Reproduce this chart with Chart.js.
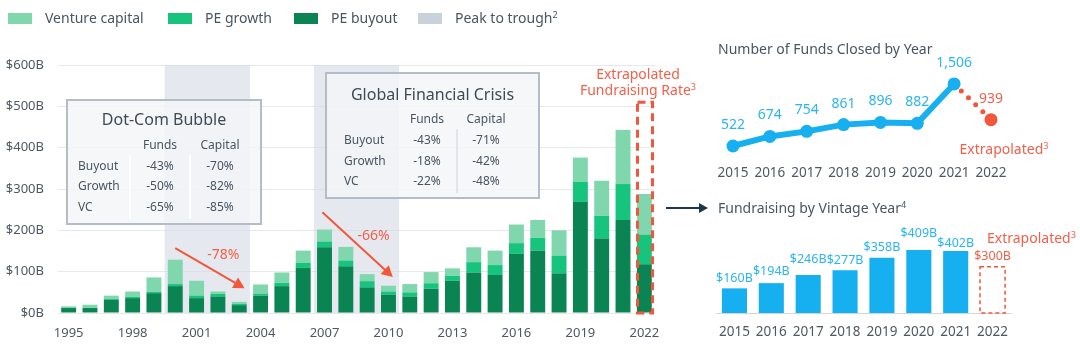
<!DOCTYPE html>
<html>
<head>
<meta charset="utf-8">
<script src="https://cdn.jsdelivr.net/npm/chart.js@4.4.0/dist/chart.umd.min.js"></script>
<style>
  body { margin: 0; background: #fff; font-family: "Noto Sans", sans-serif; }
  #wrap { position: relative; width: 1080px; height: 346px; overflow: hidden; }
  canvas { position: absolute; }
  .t { position: absolute; white-space: nowrap; line-height: 1; }
  .box { position: absolute; box-sizing: border-box; border: 2px solid #b4bdc7; background: rgba(243,245,248,0.82); }
  .sep { position: absolute; width: 2px; }
  .lg { position: absolute; width: 24px; height: 11px; top: 13px; }
  sup { font-size: 65%; vertical-align: 0; position: relative; top: -0.5em; }
</style>
</head>
<body>
<div id="wrap">
  <canvas id="main" width="680" height="346" style="left:0;top:0"></canvas>
  <canvas id="funds" width="390" height="135" style="left:690px;top:50px"></canvas>
  <canvas id="vintage" width="390" height="121" style="left:690px;top:225px"></canvas>
</div>
<script>
// main chart: capital raised by year ($B)
var years = ['1995', '1996', '1997', '1998', '1999', '2000', '2001', '2002', '2003', '2004',
             '2005', '2006', '2007', '2008', '2009', '2010', '2011', '2012', '2013', '2014',
             '2015', '2016', '2017', '2018', '2019', '2020', '2021', '2022'];
var buyout  = [12, 12, 32, 36, 48, 65, 36, 40, 19, 42, 65, 109, 159, 113, 62, 44, 40, 59, 78, 98, 92, 143, 151, 96, 269, 180, 225, 118];
var growth  = [1, 1, 2, 3, 3, 5, 6, 6, 3, 5, 8, 12, 14, 14, 15, 8, 10, 13, 12, 25, 24, 26, 31, 43, 48, 55, 87, 72];
var venture = [3, 7, 8, 13, 35, 59, 36, 6, 5, 22, 25, 30, 29, 33, 17, 14, 20, 27, 18, 36, 35, 45, 43, 61, 59, 85, 131, 98];
var yTicks = [0, 100, 200, 300, 400, 500, 600];
var peakToTrough = [['2000', '2003'], ['2007', '2010']];
var dropLabels = ['-78%', '-66%'];

// crisis tables
var tableRows = ['Buyout', 'Growth', 'VC'];
var tableCols = ['Funds', 'Capital'];
var dotcomFunds = ['-43%', '-50%', '-65%'];
var dotcomCapital = ['-70%', '-82%', '-85%'];
var gfcFunds = ['-43%', '-18%', '-22%'];
var gfcCapital = ['-71%', '-42%', '-48%'];

// right side charts
var recentYears = ['2015', '2016', '2017', '2018', '2019', '2020', '2021', '2022'];
var fundsClosed = [522, 674, 754, 861, 896, 882, 1506, 939];
var vintageCapital = [160, 194, 246, 277, 358, 409, 402, 300];

var FONT = '"Noto Sans", sans-serif';
var cVC = '#80d7ae', cGrowth = '#17c47e', cBuyout = '#0a8452';
var cShade = 'rgba(212,219,228,0.6)';
var cRed = '#f2563b', cRedText = '#f2604a';
var cBlue = '#16aff0', cBlueText = '#2bb5ee';
var cTick = '#4f5862', cTitle = '#4a5560';

var wrap = document.getElementById('wrap');

function place(html, x, y, css, anchor) {
  var d = document.createElement('div');
  d.className = 't';
  d.innerHTML = html;
  d.style.cssText += css || '';
  d.style.left = x + 'px';
  d.style.top = y + 'px';
  if (anchor === 'center') d.style.transform = 'translate(-50%,-50%)';
  else d.style.transform = 'translate(0,-50%)';
  wrap.appendChild(d);
  return d;
}

// legend
var legendItems = [
  { label: 'Venture capital', color: cVC, x: 8 },
  { label: 'PE growth', color: cGrowth, x: 168 },
  { label: 'PE buyout', color: cBuyout, x: 294 },
  { label: 'Peak to trough<sup>2</sup>', color: '#c9d2db', x: 418 }
];
legendItems.forEach(function (it) {
  var b = document.createElement('div');
  b.className = 'lg';
  b.style.left = it.x + 'px';
  b.style.background = it.color;
  wrap.appendChild(b);
  place(it.label, it.x + 37, 18, 'font-size:14px;color:' + cTitle + ';');
});

// main stacked bar chart
var shadePlugin = {
  id: 'shade',
  beforeDatasetsDraw: function (chart) {
    var ctx = chart.ctx, a = chart.chartArea, x = chart.scales.x;
    var half = (x.getPixelForValue(1) - x.getPixelForValue(0)) / 2;
    ctx.save();
    ctx.fillStyle = cShade;
    peakToTrough.forEach(function (p) {
      var l = x.getPixelForValue(years.indexOf(p[0])) - half;
      var r = x.getPixelForValue(years.indexOf(p[1])) + half;
      ctx.fillRect(l, a.top, r - l, a.bottom - a.top);
    });
    ctx.restore();
  }
};

function arrow(ctx, x1, y1, x2, y2, color, w, head) {
  var ang = Math.atan2(y2 - y1, x2 - x1);
  ctx.save();
  ctx.strokeStyle = color;
  ctx.fillStyle = color;
  ctx.lineWidth = w;
  ctx.beginPath();
  ctx.moveTo(x1, y1);
  ctx.lineTo(x2 - Math.cos(ang) * head * 0.8, y2 - Math.sin(ang) * head * 0.8);
  ctx.stroke();
  ctx.beginPath();
  ctx.moveTo(x2, y2);
  ctx.lineTo(x2 - head * Math.cos(ang) + head * 0.55 * Math.sin(ang), y2 - head * Math.sin(ang) - head * 0.55 * Math.cos(ang));
  ctx.lineTo(x2 - head * Math.cos(ang) - head * 0.55 * Math.sin(ang), y2 - head * Math.sin(ang) + head * 0.55 * Math.cos(ang));
  ctx.closePath();
  ctx.fill();
  ctx.restore();
}

var annotatePlugin = {
  id: 'annotate',
  afterDatasetsDraw: function (chart) {
    var ctx = chart.ctx, x = chart.scales.x, y = chart.scales.y;
    // drop arrows, anchored in data space (category index, $B)
    var drops = [
      { from: [5.0, 157], to: [8.25, 60], at: [7.25, 140] },
      { from: [11.9, 244], to: [15.2, 87], at: [14.3, 186] }
    ];
    drops.forEach(function (d, i) {
      arrow(ctx, x.getPixelForValue(d.from[0]), y.getPixelForValue(d.from[1]),
            x.getPixelForValue(d.to[0]), y.getPixelForValue(d.to[1]), cRed, 2, 11);
      ctx.save();
      ctx.font = '14px ' + FONT;
      ctx.fillStyle = cRedText;
      ctx.textAlign = 'center';
      ctx.textBaseline = 'middle';
      ctx.fillText(dropLabels[i], x.getPixelForValue(d.at[0]), y.getPixelForValue(d.at[1]));
      ctx.restore();
    });
    // dashed box around the extrapolated year
    var bar = chart.getDatasetMeta(2).data[years.length - 1];
    var l = Math.round(bar.x - bar.width / 2) + 0.5, r = Math.round(bar.x + bar.width / 2) + 0.5;
    var top = y.getPixelForValue(510), bottom = y.getPixelForValue(0);
    ctx.save();
    ctx.strokeStyle = cRed;
    ctx.lineWidth = 3;
    ctx.setLineDash([8, 5]);
    ctx.strokeRect(l, top, r - l, bottom - top);
    ctx.restore();
  }
};

new Chart(document.getElementById('main'), {
  type: 'bar',
  data: {
    labels: years,
    datasets: [
      { label: 'PE buyout', data: buyout, backgroundColor: cBuyout },
      { label: 'PE growth', data: growth, backgroundColor: cGrowth },
      { label: 'Venture capital', data: venture, backgroundColor: cVC }
    ]
  },
  options: {
    responsive: false,
    animation: false,
    datasets: { bar: { barPercentage: 0.7, categoryPercentage: 1 } },
    layout: { padding: { top: 65, left: 0, right: 25, bottom: 0 } },
    plugins: { legend: { display: false }, tooltip: { enabled: false } },
    scales: {
      x: {
        stacked: true,
        grid: { display: false, drawTicks: false },
        border: { display: false },
        ticks: {
          autoSkip: false, maxRotation: 0, padding: 12, color: cTick,
          font: { size: 13, family: FONT },
          callback: function (v, i) { return i % 3 === 0 ? years[i] : ''; }
        },
        afterFit: function (s) { s.height = 33; }
      },
      y: {
        stacked: true,
        min: yTicks[0], max: yTicks[yTicks.length - 1],
        grid: { color: '#e6e8ea', drawTicks: false },
        border: { display: false },
        afterBuildTicks: function (s) { s.ticks = yTicks.map(function (v) { return { value: v }; }); },
        ticks: {
          padding: 14, color: cTick,
          font: { size: 13, family: FONT },
          callback: function (v) { return '$' + v + 'B'; }
        },
        afterFit: function (s) { s.width = 58; }
      }
    }
  },
  plugins: [shadePlugin, annotatePlugin]
});

// crisis tables (HTML overlays)
function crisisTable(box, title, titleY, headY, rowY, rowX, colX, funds, capital, seps, sepColor) {
  var b = document.createElement('div');
  b.className = 'box';
  b.style.left = box[0] + 'px';
  b.style.top = box[1] + 'px';
  b.style.width = box[2] + 'px';
  b.style.height = box[3] + 'px';
  wrap.appendChild(b);
  seps.forEach(function (sx) {
    var s = document.createElement('div');
    s.className = 'sep';
    s.style.left = sx + 'px';
    s.style.top = (headY + 10) + 'px';
    s.style.height = (rowY[2] - headY + 2) + 'px';
    s.style.background = sepColor;
    wrap.appendChild(s);
  });
  place(title, box[0] + box[2] / 2, titleY, 'font-size:16px;color:#3f4a55;', 'center');
  var cell = 'font-size:12px;color:#4a5560;';
  place(tableCols[0], colX[0], headY, cell, 'center');
  place(tableCols[1], colX[1], headY, cell, 'center');
  tableRows.forEach(function (r, i) {
    place(r, rowX, rowY[i], cell);
    place(funds[i], colX[0], rowY[i], cell, 'center');
    place(capital[i], colX[1], rowY[i], cell, 'center');
  });
}
crisisTable([66, 99, 196, 126], 'Dot-Com Bubble', 119, 145, [166, 186, 207], 78, [160, 220],
            dotcomFunds, dotcomCapital, [129, 189], 'rgba(255,255,255,0.95)');
crisisTable([325, 72, 215, 127], 'Global Financial Crisis', 94, 119, [140, 161, 181], 344, [427, 486],
            gfcFunds, gfcCapital, [456], '#e1e5ea');

place('Extrapolated', 638, 74, 'font-size:14px;color:' + cRedText + ';', 'center');
place('Fundraising Rate<sup>3</sup>', 638, 90, 'font-size:14px;color:' + cRedText + ';', 'center');

// connector arrow
var ln = document.createElement('div');
ln.style.cssText = 'position:absolute;left:666px;top:207px;width:34px;height:2px;background:#1e3550;';
wrap.appendChild(ln);
var hd = document.createElement('div');
hd.style.cssText = 'position:absolute;left:699px;top:203px;width:0;height:0;border-top:5px solid transparent;border-bottom:5px solid transparent;border-left:9px solid #1e3550;';
wrap.appendChild(hd);

// number of funds closed
place('Number of Funds Closed by Year', 718, 49, 'font-size:14px;color:' + cTitle + ';');
place('Extrapolated<sup>3</sup>', 1004, 149, 'font-size:14px;color:' + cRedText + ';', 'center');

var last = fundsClosed.length - 1;
var fundLabelPlugin = {
  id: 'fundLabels',
  afterDatasetsDraw: function (chart) {
    var ctx = chart.ctx;
    ctx.save();
    ctx.font = '14px ' + FONT;
    ctx.textAlign = 'center';
    ctx.textBaseline = 'middle';
    chart.getDatasetMeta(0).data.forEach(function (p, i) {
      ctx.fillStyle = i === last ? cRedText : cBlueText;
      ctx.fillText(fundsClosed[i].toLocaleString('en-US'), p.x, p.y - 21);
    });
    ctx.restore();
  }
};

new Chart(document.getElementById('funds'), {
  type: 'line',
  data: {
    labels: recentYears,
    datasets: [{
      data: fundsClosed,
      borderColor: cBlue,
      borderWidth: 6,
      borderCapStyle: 'round',
      pointRadius: 6.5,
      pointHoverRadius: 6.5,
      pointBorderWidth: 0,
      pointBackgroundColor: fundsClosed.map(function (v, i) { return i === last ? cRed : cBlue; }),
      clip: false,
      segment: {
        borderColor: function (c) { return c.p1DataIndex === last ? cRed : undefined; },
        borderDash: function (c) { return c.p1DataIndex === last ? [0, 10] : undefined; },
        borderWidth: function (c) { return c.p1DataIndex === last ? 5 : undefined; }
      }
    }]
  },
  options: {
    responsive: false,
    animation: false,
    layout: { padding: { top: 28, left: 43, right: 89, bottom: 0 } },
    plugins: { legend: { display: false }, tooltip: { enabled: false } },
    scales: {
      x: {
        offset: false,
        grid: { display: false, drawTicks: false },
        border: { display: false },
        ticks: { padding: 11, color: cTick, font: { size: 13.5, family: FONT }, maxRotation: 0, autoSkip: false },
        afterFit: function (s) { s.height = 31.3; }
      },
      y: { display: false, min: 400, max: 1600 }
    }
  },
  plugins: [fundLabelPlugin]
});

// fundraising by vintage year
place('Fundraising by Vintage Year<sup>4</sup>', 718, 208, 'font-size:14px;color:' + cTitle + ';');
place('Extrapolated<sup>3</sup>', 987, 238, 'font-size:14px;color:' + cRedText + ';');

var vLast = vintageCapital.length - 1;
var labelLift = [10, 12, 16, 10, 10, 17, 8, 10];
var vintagePlugin = {
  id: 'vintageLabels',
  afterDatasetsDraw: function (chart) {
    var ctx = chart.ctx;
    var bars = chart.getDatasetMeta(0).data;
    var b = bars[vLast];
    ctx.save();
    ctx.strokeStyle = cRed;
    ctx.lineWidth = 1.5;
    ctx.setLineDash([4, 3]);
    ctx.strokeRect(b.x - b.width / 2, b.y, b.width, b.base - b.y);
    ctx.setLineDash([]);
    ctx.font = '12.5px ' + FONT;
    ctx.textAlign = 'center';
    ctx.textBaseline = 'middle';
    bars.forEach(function (p, i) {
      ctx.fillStyle = i === vLast ? cRedText : cBlueText;
      ctx.fillText('$' + vintageCapital[i] + 'B', p.x, p.y - labelLift[i]);
    });
    ctx.restore();
  }
};

new Chart(document.getElementById('vintage'), {
  type: 'bar',
  data: {
    labels: recentYears,
    datasets: [{
      data: vintageCapital,
      backgroundColor: vintageCapital.map(function (v, i) { return i === vLast ? 'rgba(0,0,0,0)' : cBlue; }),
      barPercentage: 0.68,
      categoryPercentage: 1
    }]
  },
  options: {
    responsive: false,
    animation: false,
    layout: { padding: { top: 11, left: 26, right: 69, bottom: 0 } },
    plugins: { legend: { display: false }, tooltip: { enabled: false } },
    scales: {
      x: {
        grid: { display: false, drawTicks: false },
        border: { display: true, color: '#d3d6d9', width: 1 },
        ticks: { padding: 11, color: cTick, font: { size: 13.5, family: FONT }, maxRotation: 0, autoSkip: false },
        afterFit: function (s) { s.height = 33; }
      },
      y: { display: false, min: 0, max: 500 }
    }
  },
  plugins: [vintagePlugin]
});
</script>
</body>
</html>
